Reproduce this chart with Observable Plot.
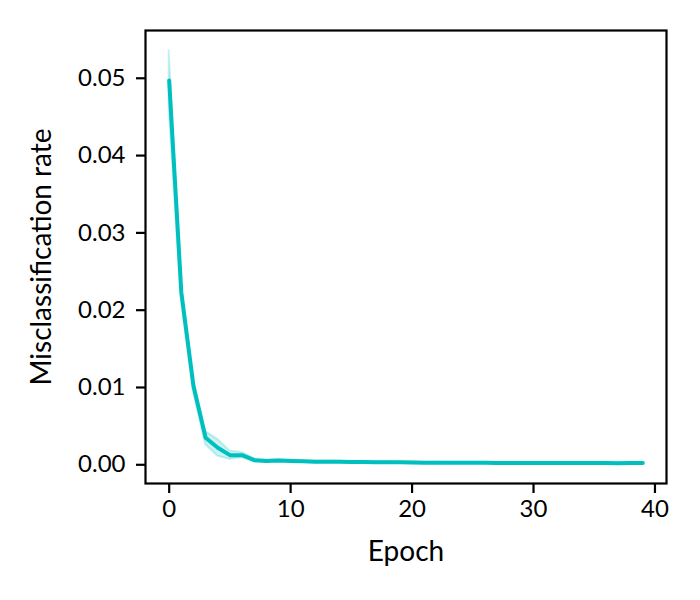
<!DOCTYPE html>
<html>
<head>
<meta charset="utf-8">
<script src="https://cdn.jsdelivr.net/npm/d3@7"></script>
<script src="https://cdn.jsdelivr.net/npm/@observablehq/plot@0.6"></script>
<style>
  html, body { margin: 0; padding: 0; background: #fff; }
  #chart svg { display: block; }
</style>
</head>
<body>
<div id="chart"></div>
<script>
const epochs = d3.range(0, 40);
const meanRate = [
  0.0497, 0.0223, 0.0102, 0.0035, 0.0022, 0.00125, 0.00125, 0.0006, 0.0005, 0.00055,
  0.0005, 0.00045, 0.0004, 0.0004, 0.00038, 0.00035, 0.00036, 0.00033, 0.00034, 0.00032,
  0.0003, 0.00027, 0.00028, 0.00026, 0.00026, 0.00026, 0.00025, 0.00024, 0.00024, 0.00024,
  0.00023, 0.00024, 0.00023, 0.00023, 0.00022, 0.00023, 0.00022, 0.00021, 0.00022, 0.00022
];
const lowerRate = [
  0.0458, 0.0214, 0.0094, 0.0026, 0.0011, 0.0007, 0.0009, 0.0004, 0.0004, 0.0004,
  0.00038, 0.00034, 0.0003, 0.0003, 0.00028, 0.00026, 0.00027, 0.00024, 0.00025, 0.00024,
  0.00022, 0.0002, 0.0002, 0.00019, 0.00019, 0.00019, 0.00018, 0.00018, 0.00018, 0.00018,
  0.00017, 0.00018, 0.00017, 0.00017, 0.00016, 0.00017, 0.00016, 0.00015, 0.00016, 0.00016
];
const upperRate = [
  0.0536, 0.0232, 0.0111, 0.0043, 0.0033, 0.0018, 0.0016, 0.0008, 0.0006, 0.0007,
  0.00062, 0.00056, 0.0005, 0.0005, 0.00048, 0.00044, 0.00045, 0.00042, 0.00043, 0.0004,
  0.00038, 0.00034, 0.00036, 0.00033, 0.00033, 0.00033, 0.00032, 0.0003, 0.0003, 0.0003,
  0.00029, 0.0003, 0.00029, 0.00029, 0.00028, 0.00029, 0.00028, 0.00027, 0.00028, 0.00028
];
const xTicks = [0, 10, 20, 30, 40];
const yTicks = [0, 0.01, 0.02, 0.03, 0.04, 0.05];
const xLabel = "Epoch";
const yLabel = "Misclassification rate";

const data = epochs.map((e, i) => ({epoch: e, mean: meanRate[i], lo: lowerRate[i], hi: upperRate[i]}));
const color = "#00bfbf";
const font = "Lato, 'Open Sans', sans-serif";

const chart = Plot.plot({
  width: 700,
  height: 600,
  marginLeft: 145,
  marginRight: 34,
  marginTop: 30,
  marginBottom: 117,
  style: {fontFamily: font, fontSize: "24px", color: "#000", background: "#fff"},
  x: {domain: [-1.95, 40.95]},
  y: {domain: [-0.00242, 0.05618]},
  marks: [
    Plot.areaY(data, {x: "epoch", y1: "lo", y2: "hi", fill: color, fillOpacity: 0.2,
      stroke: color, strokeOpacity: 0.2, strokeWidth: 2}),
    Plot.lineY(data, {x: "epoch", y: "mean", stroke: color, strokeWidth: 4}),
    Plot.frame({stroke: "#000", strokeWidth: 2.2}),
    Plot.axisX({ticks: xTicks, tickSize: 10, tickPadding: 6, strokeWidth: 2.2,
      tickFormat: d3.format("d"), fontSize: 24, label: null}),
    Plot.axisY({ticks: yTicks, tickSize: 9, tickPadding: 11, strokeWidth: 2.2,
      tickFormat: d3.format(".2f"), fontSize: 24, label: null}),
    Plot.text([xLabel], {frameAnchor: "bottom", dy: 69, lineAnchor: "middle",
      textAnchor: "middle", fontSize: 28, fill: "#000", text: d => d}),
    Plot.text([yLabel], {frameAnchor: "left", dx: -103, rotate: -90, lineAnchor: "middle",
      textAnchor: "middle", fontSize: 28, fill: "#000", text: d => d})
  ]
});
document.getElementById("chart").appendChild(chart);
</script>
</body>
</html>
